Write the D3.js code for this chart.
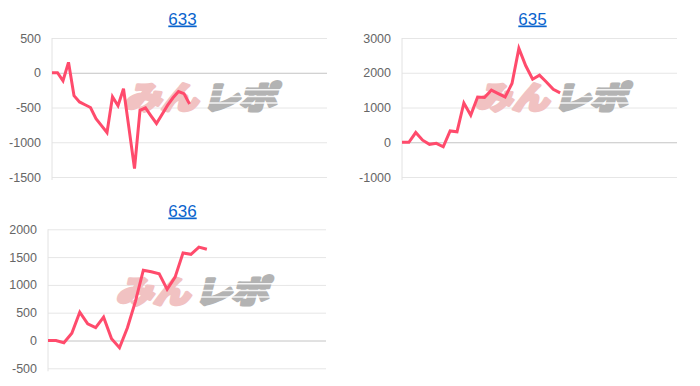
<!DOCTYPE html>
<html>
<head>
<meta charset="utf-8">
<script src="https://cdn.jsdelivr.net/npm/d3@7"></script>
<style>
  body { margin: 0; background: #fff; }
  svg { display: block; }
</style>
</head>
<body>
<svg id="chart" width="700" height="386"></svg>
<script>
// machine numbers (chart titles)
const titles = ['633', '635', '636'];

// number of x slots on each chart's category axis
const slotCounts = [51, 41, 36];

// running difference per game slot
const values633 = [0, 0, -115, 150, -330, -420, -460, -500, -660, -760, -860, -345, -475,
  -230, -800, -1380, -540, -505, -620, -730, -600, -470, -360, -270, -300, -450];
const values635 = [0, 0, 280, 60, -60, -30, -130, 325, 300, 1130, 780, 1300, 1290,
  1500, 1400, 1305, 1690, 2700, 2200, 1815, 1930, 1735, 1525, 1420];
const values636 = [0, 0, -40, 130, 510, 300, 230, 420, 30, -130, 230, 700, 1265,
  1235, 1200, 920, 1140, 1575, 1550, 1680, 1640];

// y tick labels
const ticks633 = [500, 0, -500, -1000, -1500];
const ticks635 = [3000, 2000, 1000, 0, -1000];
const ticks636 = [2000, 1500, 1000, 500, 0, -500];

// panel boxes (plot area) and where title / watermark go
const panels = [
  {title: titles[0], n: slotCounts[0], values: values633, ticks: ticks633,
   left: 52, right: 327, top: 38, bottom: 177, titleX: 182.5, titleY: 24.5, markX: 124, markY: 109},
  {title: titles[1], n: slotCounts[1], values: values635, ticks: ticks635,
   left: 402, right: 677, top: 38, bottom: 177, titleX: 532.5, titleY: 24.5, markX: 475, markY: 109},
  {title: titles[2], n: slotCounts[2], values: values636, ticks: ticks636,
   left: 48, right: 326, top: 229.3, bottom: 368.3, titleX: 182.5, titleY: 216.5, markX: 116, markY: 303}
];

const svg = d3.select('#chart');

panels.forEach(function(p) {
  let g = svg.append('g');

  let x = d3.scaleLinear()
    .domain([0, p.n - 1])
    .range([p.left, p.right]);
  let y = d3.scaleLinear()
    .domain([d3.min(p.ticks), d3.max(p.ticks)])
    .range([p.bottom, p.top]);

  // title, link-like
  g.append('text')
    .attr('x', p.titleX)
    .attr('y', p.titleY)
    .attr('text-anchor', 'middle')
    .style('font-family', '"Liberation Sans", Arial, sans-serif')
    .style('font-size', '17px')
    .style('fill', '#0a64cd')
    .style('text-decoration', 'underline')
    .text(p.title);

  // horizontal grid + tick labels (plain hyphen minus like the original)
  let axis = g.append('g')
    .attr('transform', 'translate(' + p.left + ',0)')
    .call(d3.axisLeft(y)
      .tickValues(p.ticks)
      .tickSize(-(p.right - p.left))
      .tickPadding(11)
      .tickFormat(function(d) { return String(d); }));
  axis.select('.domain').remove();
  axis.selectAll('line')
    .attr('stroke', function(d) { return d === 0 ? '#c4c4c4' : '#e6e6e6'; })
    .attr('stroke-width', 1);
  axis.selectAll('text')
    .style('font-family', '"Liberation Sans", Arial, sans-serif')
    .style('font-size', '12.5px')
    .style('fill', '#666');

  // left axis line
  g.append('line')
    .attr('x1', p.left).attr('x2', p.left)
    .attr('y1', p.top).attr('y2', p.bottom + 3)
    .attr('stroke', '#e2e2e2');

  // watermark - heavy slanted logo text
  let mark = g.append('g')
    .attr('transform', 'translate(' + p.markX + ',' + p.markY + ') skewX(-14) scale(1.12,0.95)')
    .style('font-family', '"Noto Sans CJK JP", sans-serif')
    .style('font-weight', 900)
    .style('font-size', '33px')
    .style('stroke-linejoin', 'round');
  mark.append('text')
    .attr('x', 0).attr('y', 0)
    .style('fill', '#f1c2c2')
    .style('stroke', '#f1c2c2')
    .style('stroke-width', 3.2)
    .text('みん');
  mark.append('text')
    .attr('x', 70).attr('y', 0)
    .style('fill', '#b3b3b3')
    .style('stroke', '#b3b3b3')
    .style('stroke-width', 3.2)
    .text('レポ');
  // speed streaks over the grey part
  [-21, -14, -7].forEach(function(dy) {
    mark.append('rect')
      .attr('x', 68).attr('y', dy)
      .attr('width', 80).attr('height', 1.5)
      .style('fill', '#fff')
      .style('stroke', 'none')
      .style('opacity', 0.85);
  });

  // the series line
  let line = d3.line()
    .x(function(d, i) { return x(i); })
    .y(function(d) { return y(d); });

  g.append('path')
    .datum(p.values)
    .attr('d', line)
    .style('fill', 'none')
    .style('stroke', '#ff4b6c')
    .style('stroke-width', 3)
    .style('stroke-linejoin', 'miter');
});
</script>
</body>
</html>
